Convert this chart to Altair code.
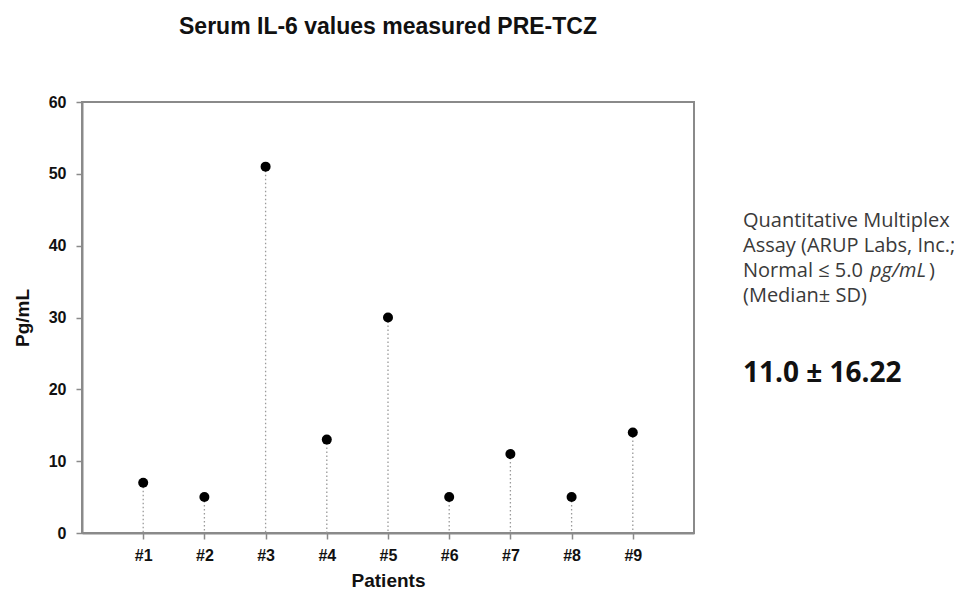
import altair as alt
import pandas as pd

patients = [1, 2, 3, 4, 5, 6, 7, 8, 9]
il6_values = [7, 5, 51, 13, 30, 5, 11, 5, 14]

df = pd.DataFrame({"patient": patients, "value": il6_values})

note_lines = ["Quantitative Multiplex", "Assay (ARUP Labs, Inc.;", "(Median\u00b1 SD)"]
note_baselines = [227, 252, 302]
summary_text = "11.0 \u00b1 16.22"

W, H = 612, 431
PLOT_LEFT, PLOT_TOP = 82, 102
FONT = "Liberation Sans"
NOTE_FONT = "Open Sans"
NOTE_SIZE = 20
NOTE_X = 743 - PLOT_LEFT
NOTE_COLOR = "#3a3a3a"

x_enc = alt.X("patient:Q", scale=alt.Scale(domain=[0, 10], nice=False),
              axis=alt.Axis(values=patients, labelExpr="'#' + datum.value",
                            title="Patients", grid=False))
y_enc = alt.Y("value:Q", scale=alt.Scale(domain=[0, 60], nice=False),
              axis=alt.Axis(values=[0, 10, 20, 30, 40, 50, 60], title="Pg/mL", grid=False))

stems = alt.Chart(df).mark_rule(color="#9a9a9a", strokeDash=[1.5, 2.5], strokeWidth=1.3).encode(
    x=x_enc, y=y_enc, y2=alt.datum(0)
)
dots = alt.Chart(df).mark_point(filled=True, color="black", size=100, opacity=1).encode(
    x=x_enc, y=y_enc
)

notes_df = pd.DataFrame({"t": note_lines, "yy": [b - PLOT_TOP for b in note_baselines]})
notes = alt.Chart(notes_df).mark_text(
    align="left", baseline="alphabetic", font=NOTE_FONT, fontSize=NOTE_SIZE, color=NOTE_COLOR
).encode(x=alt.value(NOTE_X), y=alt.Y("yy:Q", scale=None), text="t:N")

# "Normal <= 5.0 pg/mL)" line, with the unit in italics
line3_y = 277 - PLOT_TOP
n1 = alt.Chart(pd.DataFrame({"t": ["Normal \u2264 5.0"]})).mark_text(
    align="left", baseline="alphabetic", font=NOTE_FONT, fontSize=NOTE_SIZE, color=NOTE_COLOR
).encode(x=alt.value(NOTE_X), y=alt.value(line3_y), text="t:N")
n2 = alt.Chart(pd.DataFrame({"t": ["pg/mL"]})).mark_text(
    align="left", baseline="alphabetic", font=NOTE_FONT, fontSize=NOTE_SIZE, fontStyle="italic",
    color=NOTE_COLOR
).encode(x=alt.value(NOTE_X + 127), y=alt.value(line3_y), text="t:N")
n3 = alt.Chart(pd.DataFrame({"t": [")"]})).mark_text(
    align="left", baseline="alphabetic", font=NOTE_FONT, fontSize=NOTE_SIZE, color=NOTE_COLOR
).encode(x=alt.value(NOTE_X + 186), y=alt.value(line3_y), text="t:N")

summary = alt.Chart(pd.DataFrame({"t": [summary_text]})).mark_text(
    align="left", baseline="alphabetic", font=NOTE_FONT, fontSize=28, fontWeight="bold",
    color="#111111"
).encode(x=alt.value(NOTE_X), y=alt.value(382 - PLOT_TOP), text="t:N")

chart = alt.layer(stems, dots, notes, n1, n2, n3, summary).properties(
    width=W, height=H,
    title=alt.TitleParams("Serum IL-6 values measured PRE-TCZ", font=FONT, fontSize=23,
                          fontWeight="bold", color="#111111", anchor="middle", offset=55),
    autosize=alt.AutoSizeParams(type="none"),
    padding={"left": PLOT_LEFT - 8, "top": PLOT_TOP - 8, "right": 260, "bottom": 58},
).configure_view(
    stroke="#8a8a8a", strokeWidth=2
).configure_axis(
    domainColor="#8a8a8a", domainWidth=2, tickColor="#8a8a8a", tickWidth=1.5, tickSize=6,
    labelFont=FONT, labelFontSize=16, labelFontWeight="bold", labelColor="#111111",
    titleFont=FONT, titleFontSize=19, titleFontWeight="bold", titleColor="#111111"
).configure_axisX(
    labelPadding=8, titlePadding=8
).configure_axisY(
    labelPadding=10, titlePadding=16
)

chart.save("out.html", embed_options={"renderer": "svg", "actions": False})
